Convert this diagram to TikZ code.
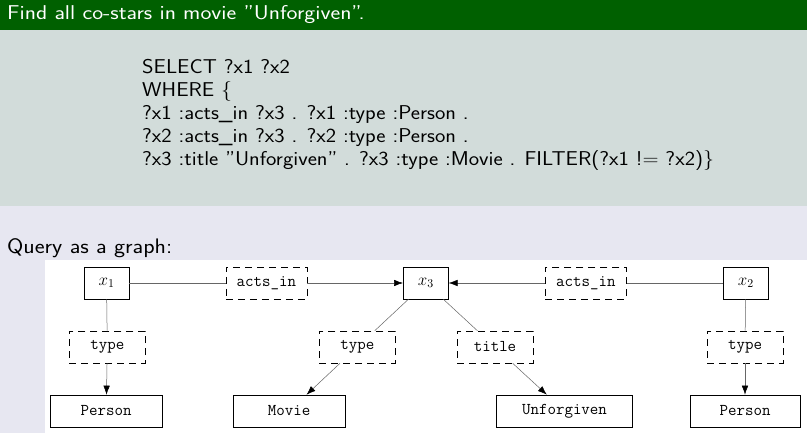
\documentclass[tikz,border=0pt]{standalone}
\usepackage{fix-cm}
\usetikzlibrary{arrows.meta}

\definecolor{headgreen}{RGB}{0,96,0}
\definecolor{blockgray}{RGB}{210,220,218}
\definecolor{slidebg}{RGB}{231,231,241}

% slide text is set a little wider than Latin Modern Sans
\newcommand{\widetext}[2]{\scalebox{#1}[1]{#2}}

\tikzset{
    slidetext/.style={anchor=base west, inner sep=0pt, font=\sffamily\fontsize{20}{23}\selectfont},
    var/.style={draw, line width=0.6pt, minimum width=45pt, minimum height=32pt, inner sep=0pt,
        font=\fontsize{17}{18}\selectfont},
    pred/.style={draw, line width=0.6pt, dash pattern=on 7pt off 5pt, minimum height=32pt, inner sep=0pt,
        font=\ttfamily\fontsize{16.5}{18}\selectfont},
    lit/.style={draw, line width=0.6pt, minimum height=32pt, inner sep=0pt,
        font=\ttfamily\fontsize{16.5}{18}\selectfont},
    link/.style={draw=black!60, line width=0.5pt},
    arr/.style={link, -{Latex[length=9pt, width=6.5pt, color=black]}}
}

\begin{document}
\begin{tikzpicture}[x=1pt, y=-1pt]
        \useasboundingbox (0,0) rectangle (807,433);
        % slide background
        \fill[slidebg]   (0,0)   rectangle (807,433);
        \fill[headgreen] (0,0)   rectangle (807,30);
        \fill[blockgray] (0,30)  rectangle (807,206);
        \fill[white]     (45,260) rectangle (807,433);

        % block title and query text
        \node[slidetext, text=white] (heading) at (7,20) {\widetext{1.16}{Find all co-stars in movie ''Unforgiven''.}};
        \node[slidetext] (q1) at (142,74)    {\widetext{1.1}{SELECT ?x1 ?x2}};
        \node[slidetext] (q2) at (142,96.7)  {\widetext{1.1}{WHERE \{}};
        \node[slidetext] (q3) at (142,120)   {\widetext{1.1}{?x1 :acts\_in ?x3 . ?x1 :type :Person .}};
        \node[slidetext] (q4) at (142,142.7) {\widetext{1.1}{?x2 :acts\_in ?x3 . ?x2 :type :Person .}};
        \node[slidetext] (q5) at (142,166)   {\widetext{1.1}{?x3 :title ''Unforgiven'' . ?x3 :type :Movie . FILTER(?x1 != ?x2)\}}};
        \node[slidetext, font=\sffamily\fontsize{21}{24}\selectfont] (graphlabel) at (7,254) {\widetext{1.12}{Query as a graph:}};

        % query graph
        \node[var]  (x1)    at (106.5,283) {$x_1$};
        \node[pred, minimum width=81pt] (actsL) at (266.3,283) {acts\_in};
        \node[var]  (x3)    at (425.8,283) {$x_3$};
        \node[pred, minimum width=81pt] (actsR) at (585.8,283) {acts\_in};
        \node[var]  (x2)    at (745.8,283) {$x_2$};
        \node[pred, minimum width=76pt] (typeL) at (107.3,347) {type};
        \node[pred, minimum width=76pt] (typeM) at (357.3,347) {type};
        \node[pred, minimum width=76pt] (title) at (495,347)   {title};
        \node[pred, minimum width=76pt] (typeR) at (745,347)   {type};
        \node[lit, minimum width=112pt] (personL)    at (106.2,411) {Person};
        \node[lit, minimum width=112pt] (movie)      at (289.2,411) {Movie};
        \node[lit, minimum width=136pt] (unforgiven) at (564.5,411) {Unforgiven};
        \node[lit, minimum width=110pt] (personR)    at (745,411)   {Person};

        \draw[link] (x1) -- (actsL);
        \draw[arr]  (actsL) -- (x3);
        \draw[link] (x2) -- (actsR);
        \draw[arr]  (actsR) -- (x3);
        \draw[link] (x1) -- (typeL);
        \draw[arr]  (typeL) -- (personL);
        \draw[link] (x3) -- (typeM);
        \draw[arr]  (typeM) -- (movie);
        \draw[link] (x3) -- (title);
        \draw[arr]  (title) -- (unforgiven);
        \draw[link] (x2) -- (typeR);
        \draw[arr]  (typeR) -- (personR);
    \end{tikzpicture}
\end{document}
